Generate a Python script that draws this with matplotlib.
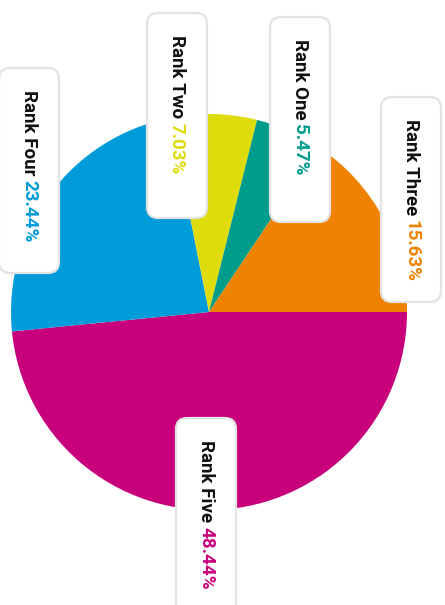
import matplotlib.pyplot as plt
from matplotlib.patches import FancyBboxPatch

# data, in drawing order (clockwise from 3 o'clock)
names = ['Rank Five', 'Rank Four', 'Rank Two', 'Rank One', 'Rank Three']
shares = [48.44, 23.44, 7.03, 5.47, 15.63]
colors = ['#C9007C', '#009BD9', '#DEDC0C', '#009C8B', '#EF8200']

# label boxes, top-left corner in pixels (y from top)
box_pos = [(176, 418), (-1, 68), (147, 13), (270, 17), (381, 97)]
BOX_W, BOX_H = 60, 205

W, H = 445, 605
fig = plt.figure(figsize=(W / 100, H / 100), dpi=100)
ax = fig.add_axes([0, 0, 1, 1])
ax.set_xlim(0, W)
ax.set_ylim(0, H)
ax.set_aspect('equal')
ax.axis('off')

ax.pie(shares, colors=colors, startangle=0, counterclock=False,
       center=(209, H - 312), radius=198,
       wedgeprops=dict(linewidth=0))
ax.set_xlim(0, W)
ax.set_ylim(0, H)

for name, val, col, (bx, by) in zip(names, shares, colors, box_pos):
    box = FancyBboxPatch((bx, H - by - BOX_H), BOX_W, BOX_H,
                         boxstyle='round,pad=0,rounding_size=11',
                         facecolor='white', edgecolor='#e3e3e3',
                         linewidth=1.6, zorder=5)
    ax.add_patch(box)
    t1 = ax.text(bx + BOX_W / 2, H - by - 22, name + ' ', rotation=-90,
                 ha='center', va='top', fontsize=13.5, fontweight='bold',
                 family=['Roboto', 'DejaVu Sans'], color='#111111', zorder=6)
    ax.annotate('%.2f%%' % val, xy=(0.5, 0), xycoords=t1,
                xytext=(0, 0), textcoords='offset points',
                rotation=-90, ha='center', va='top', fontsize=13.5,
                fontweight='bold', family=['Roboto', 'DejaVu Sans'],
                color=col, zorder=6)

fig.savefig('out.png', dpi=100)
